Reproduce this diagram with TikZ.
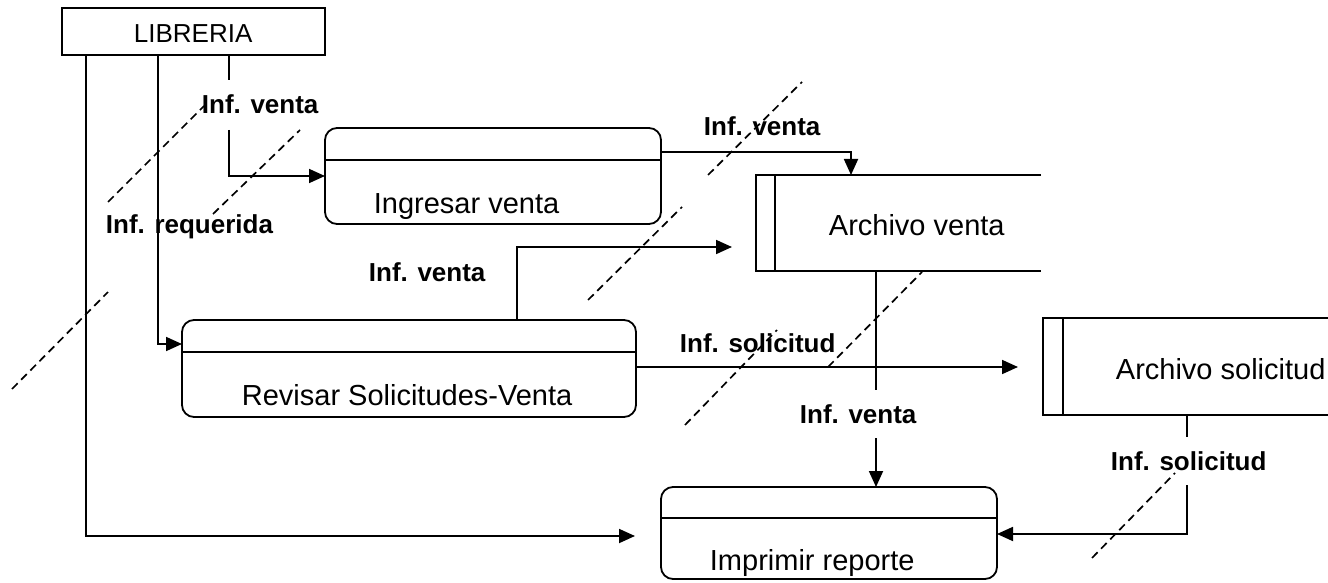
\documentclass[tikz,border=0pt]{standalone}
\usepackage{fontspec}
\setmainfont{Liberation Sans}
\usetikzlibrary{arrows.meta}
\begin{document}
\begin{tikzpicture}[x=1pt,y=-1pt,line width=1.8pt,
  flow/.style={draw,-{Triangle[length=16pt,width=14pt]}},
  proc/.style={draw,rounded corners=12pt,inner sep=0pt,outer sep=0pt},
  store/.style={inner sep=0pt,outer sep=0pt},
  ptext/.style={font=\fontsize{29}{32}\selectfont,inner sep=0pt,anchor=base west},
  etext/.style={font=\fontsize{26}{28}\selectfont,inner sep=0pt,anchor=base west},
  lbl/.style={font=\fontsize{26}{28}\selectfont\bfseries,inner sep=0pt,anchor=base west},
  cut/.style={dash pattern=on 8pt off 5pt,line width=1.7pt}]
\useasboundingbox (0,0) rectangle (1328,583);

% external entity
\node[draw,minimum width=263pt,minimum height=47pt,inner sep=0pt,outer sep=0pt] (lib) at (193.5,31.5) {};
\node[etext] (libt) at (133,43) {LIBRERIA};

% processes
\node[proc,minimum width=336pt,minimum height=96pt] (ing) at (493,176) {};
\draw (ing.west |- 0,160) -- (ing.east |- 0,160);
\node[ptext] (ingt) at (373,213) {Ingresar venta};

\node[proc,minimum width=454pt,minimum height=97pt] (rev) at (409,368.5) {};
\draw (rev.west |- 0,352) -- (rev.east |- 0,352);
\node[ptext] (revt) at (241,405) {Revisar Solicitudes-Venta};

\node[proc,minimum width=336pt,minimum height=92pt] (imp) at (829,533) {};
\draw (imp.west |- 0,518) -- (imp.east |- 0,518);
\node[ptext] (impt) at (709,570) {Imprimir reporte};

% data stores
\node[store,minimum width=285pt,minimum height=96pt] (av) at (898.5,223) {};
\draw (av.north east) -- (av.north west) -- (av.south west) -- (av.south east);
\draw ([xshift=19pt]av.north west) -- ([xshift=19pt]av.south west);
\node[ptext] (avt) at (828,235) {Archivo venta};

\node[store,minimum width=285pt,minimum height=97pt] (as) at (1185.5,366.5) {};
\draw (as.north east) -- (as.north west) -- (as.south west) -- (as.south east);
\draw ([xshift=20pt]as.north west) -- ([xshift=20pt]as.south west);
\node[ptext] (ast) at (1115,379) {Archivo solicitud};

% break points of connectors around labels
\coordinate (b1) at (229,80);
\coordinate (b2) at (229,130);
\coordinate (b3) at (876,390);
\coordinate (b4) at (876,438);
\coordinate (b5) at (1187,437);
\coordinate (b6) at (1187,485);

% connectors
\draw[flow,shorten >=26pt] (lib.south -| 86,0) |- (imp.west |- 0,536);
\draw[flow] (lib.south -| 158,0) |- (rev.west |- 0,344);
\draw (lib.south -| 229,0) -- (b1);
\draw[flow] (b2) |- (ing.west);
\draw[flow] (ing.east |- 0,152) -| (av.north -| 851,0);
\draw[flow,shorten >=24pt] (rev.north -| 517,0) |- (av.west |- 0,247);
\draw[flow,shorten >=25pt] (rev.east |- 0,367) -- (as.west |- 0,367);
\draw (av.south -| 876,0) -- (b3);
\draw[flow] (b4) -- (imp.north -| 876,0);
\draw (as.south -| 1187,0) -- (b5);
\draw[flow] (b6) |- (imp.east |- 0,534);

% labels
\node[lbl] (l1) at (201,114) {Inf. venta};
\node[lbl] (l2) at (105,233) {Inf. requerida};
\node[lbl] (l3) at (368,281) {Inf. venta};
\node[lbl] (l4) at (703,136) {Inf. venta};
\node[lbl] (l5) at (679,352) {Inf. solicitud};
\node[lbl] (l6) at (799,423) {Inf. venta};
\node[lbl] (l7) at (1110,470) {Inf. solicitud};

% dashed cut marks
\draw[cut] (108,202) -- (204,106);
\draw[cut] (213,214) -- (300,130);
\draw[cut] (708,175) -- (802,82);
\draw[cut] (588,300) -- (682,207);
\draw[cut] (12,389) -- (108,292);
\draw[cut] (685,425) -- (777,330);
\draw[cut] (828,367) -- (922,272);
\draw[cut] (1092,558) -- (1175,473);
\end{tikzpicture}
\end{document}
